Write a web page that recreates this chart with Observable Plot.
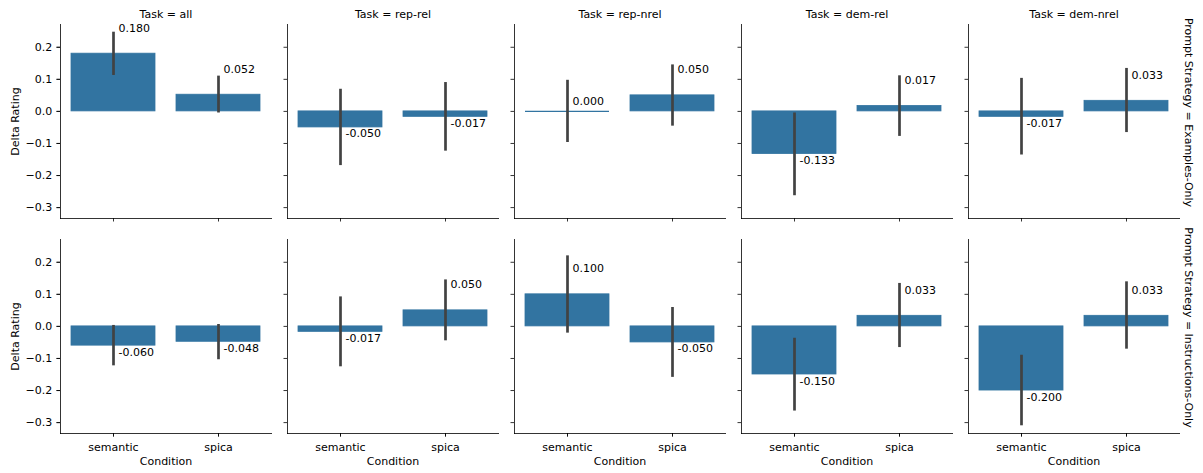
<!DOCTYPE html>
<html>
<head>
<meta charset="utf-8">
<script src="https://cdn.jsdelivr.net/npm/d3@7"></script>
<script src="https://cdn.jsdelivr.net/npm/@observablehq/plot@0.6"></script>
<style>
  html, body { margin: 0; padding: 0; background: #fff; }
</style>
</head>
<body>
<div id="chart"></div>
<script>
const tasks = ["all", "rep-rel", "rep-nrel", "dem-rel", "dem-nrel"];
const strategies = ["Examples-Only", "Instructions-Only"];
const conditions = ["semantic", "spica"];
const yTicks = [-0.3, -0.2, -0.1, 0.0, 0.1, 0.2];

// mean delta rating: [strategy][task] -> [semantic, spica]
const means = {
  "Examples-Only": {
    "all": [0.180, 0.052], "rep-rel": [-0.050, -0.017], "rep-nrel": [0.000, 0.050],
    "dem-rel": [-0.133, 0.017], "dem-nrel": [-0.017, 0.033]
  },
  "Instructions-Only": {
    "all": [-0.060, -0.048], "rep-rel": [-0.017, 0.050], "rep-nrel": [0.100, -0.050],
    "dem-rel": [-0.150, 0.033], "dem-nrel": [-0.200, 0.033]
  }
};
// confidence interval lows
const ciLow = {
  "Examples-Only": {
    "all": [0.112, -0.005], "rep-rel": [-0.169, -0.124], "rep-nrel": [-0.097, -0.046],
    "dem-rel": [-0.263, -0.078], "dem-nrel": [-0.136, -0.066]
  },
  "Instructions-Only": {
    "all": [-0.123, -0.104], "rep-rel": [-0.126, -0.045], "rep-nrel": [-0.021, -0.159],
    "dem-rel": [-0.264, -0.066], "dem-nrel": [-0.310, -0.071]
  }
};
// confidence interval highs
const ciHigh = {
  "Examples-Only": {
    "all": [0.247, 0.110], "rep-rel": [0.069, 0.090], "rep-nrel": [0.097, 0.145],
    "dem-rel": [-0.005, 0.111], "dem-nrel": [0.103, 0.134]
  },
  "Instructions-Only": {
    "all": [0.003, 0.006], "rep-rel": [0.092, 0.145], "rep-nrel": [0.220, 0.059],
    "dem-rel": [-0.037, 0.134], "dem-nrel": [-0.090, 0.139]
  }
};

const data = [];
for (const s of strategies) for (const t of tasks) conditions.forEach((c, i) => {
  data.push({strategy: s, task: t, condition: c, value: means[s][t][i], lo: ciLow[s][t][i], hi: ciHigh[s][t][i]});
});

const barColor = "#3274a1";
const ink = "#000000";
const fmtMinus = d => d.toFixed(1).replace("-", "\u2212");
const common = {fx: "task", fy: "strategy", x: "condition"};

const chart = Plot.plot({
  width: 1203,
  height: 473,
  marginLeft: 60,
  marginRight: 23.7,
  marginTop: 24,
  marginBottom: 39.7,
  style: {fontFamily: "DejaVu Sans", fontSize: "11px", color: ink, background: "#fff"},
  fx: {domain: tasks, paddingInner: 0.0713, paddingOuter: 0, label: null},
  fy: {domain: strategies, paddingInner: 0.0976, paddingOuter: 0, axis: null, label: null},
  x: {domain: conditions, paddingInner: 0.2, paddingOuter: 0.1, label: null},
  y: {domain: [-0.334, 0.271], label: null},
  marks: [
    Plot.barY(data, {...common, y: "value", fill: barColor, stroke: barColor, strokeWidth: 0.8}),
    Plot.tickY(data.filter(d => d.value === 0), {...common, y: "value", stroke: barColor, strokeWidth: 1.2, inset: 0}),
    Plot.ruleX(data, {...common, y1: "lo", y2: "hi", stroke: "#424242", strokeWidth: 2.7}),
    Plot.text(data.filter(d => d.value > 0), {...common, y: "value", text: d => d.value.toFixed(3),
      textAnchor: "start", lineAnchor: "middle", dx: 5, dy: -25.5, fill: ink, fontSize: 11}),
    Plot.text(data.filter(d => d.value < 0), {...common, y: "value", text: d => d.value.toFixed(3),
      textAnchor: "start", lineAnchor: "middle", dx: 5, dy: 6.5, fill: ink, fontSize: 11}),
    Plot.text(data.filter(d => d.value === 0), {...common, y: "value", text: d => d.value.toFixed(3),
      textAnchor: "start", lineAnchor: "middle", dx: 5, dy: -9.5, fill: ink, fontSize: 11}),
    Plot.frame({anchor: "left", stroke: ink, strokeWidth: 0.8}),
    Plot.frame({anchor: "bottom", stroke: ink, strokeWidth: 0.8}),
    Plot.axisY({facetAnchor: null, ticks: yTicks, tickFormat: () => "", tickSize: 3.5, strokeWidth: 0.8, label: null}),
    Plot.axisY({facetAnchor: "left", ticks: yTicks, tickFormat: fmtMinus, tickSize: 3.5, tickPadding: 4.8, strokeWidth: 0.8, label: null, fontSize: 11}),
    Plot.axisX({facetAnchor: null, tickFormat: () => "", tickSize: 3.5, strokeWidth: 0.8, label: null}),
    Plot.axisX({facetAnchor: "bottom", tickSize: 3.5, tickPadding: 6, strokeWidth: 0.8, label: null, fontSize: 11}),
    Plot.axisFx({anchor: "top", tickSize: 0, tickPadding: 6.5, tickFormat: d => `Task = ${d}`, label: null, fontSize: 11}),
    Plot.text(strategies.map(s => ({strategy: s, task: tasks[0]})), {fx: "task", fy: "strategy",
      frameAnchor: "left", rotate: -90, dx: -44.7, textAnchor: "middle", lineAnchor: "middle",
      text: () => "Delta Rating", fontSize: 11, fill: ink}),
    Plot.text(tasks.map(t => ({strategy: strategies[1], task: t})), {fx: "task", fy: "strategy",
      frameAnchor: "bottom", dy: 27.7, textAnchor: "middle", lineAnchor: "middle",
      text: () => "Condition", fontSize: 11, fill: ink}),
    Plot.text(strategies.map(s => ({strategy: s, task: tasks[tasks.length - 1]})), {fx: "task", fy: "strategy",
      frameAnchor: "right", rotate: 90, dx: 9.5, dy: -9, textAnchor: "middle", lineAnchor: "middle",
      text: d => `Prompt Strategy = ${d.strategy}`, fontSize: 11, fill: ink})
  ]
});
document.getElementById("chart").appendChild(chart);
</script>
</body>
</html>
